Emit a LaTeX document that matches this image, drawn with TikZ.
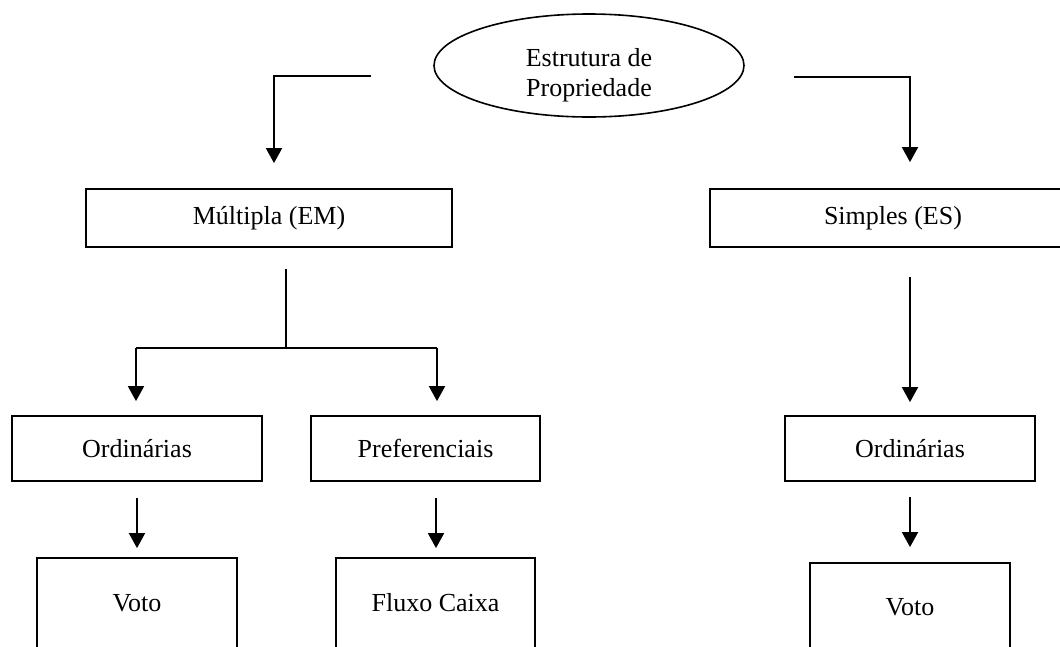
\documentclass[tikz,border=0pt]{standalone}
\usepackage{fontspec}
\setmainfont{Liberation Serif}
\usetikzlibrary{arrows.meta,shapes.geometric,calc}
\begin{document}
\begin{tikzpicture}[x=1pt,y=-1pt,
  every node/.style={font=\fontsize{26}{30}\selectfont},
  box/.style={draw=black,line width=1.8pt,rectangle,inner sep=0pt},
  link/.style={draw=black,line width=1.8pt},
  arrowlink/.style={link,-{Triangle[width=16pt,length=15pt]}}]
\useasboundingbox (0,0) rectangle (1060,646);
\clip (0,0) rectangle (1060,646);
\fill[white] (0,0) rectangle (1060,646);

% top ellipse
\node[draw=black,line width=1.6pt,ellipse,minimum width=310,minimum height=103,inner sep=0pt] (root) at (589,65.5) {};
\node[align=center,inner sep=0pt] (roottxt) at (589,75) {Estrutura de\\Propriedade};

% first level
\node[box,minimum width=366,minimum height=58] (mult) at (269,218) {Múltipla (EM)};
\node[box,minimum width=366,minimum height=58] (simp) at (893,218) {Simples (ES)};

% second level
\node[box,minimum width=250,minimum height=65] (ord1) at (137,448.5) {Ordinárias};
\node[box,minimum width=229,minimum height=65] (pref) at (425.5,448.5) {Preferenciais};
\node[box,minimum width=250,minimum height=65] (ord2) at (910,448.5) {Ordinárias};

% third level (boxes run past the lower edge)
\node[box,minimum width=200,minimum height=90] (voto1) at (137,603) {Voto};
\node[box,minimum width=199,minimum height=90] (fluxo) at (435.5,603) {Fluxo Caixa};
\node[box,minimum width=200,minimum height=88] (voto2) at (910,607) {Voto};

% free ends of the connectors
\coordinate (rl) at (371,76);
\coordinate (rr) at (794,77);
\coordinate (ms) at (286,269);
\coordinate (mj) at (286,348);
\coordinate (sl) at (136,348);
\coordinate (sr) at (437,348);
\coordinate (ss) at (910,277);
\coordinate (o1s) at (137,498);
\coordinate (ps) at (436,498);
\coordinate (o2s) at (910,497);

% root to first level
\draw[arrowlink] (rl) -| ($(mult.north)+(5,-25)$);
\draw[arrowlink] (rr) -| ($(simp.north)+(17,-26)$);

% Multipla split
\draw[link] (ms) -- (mj);
\draw[link] (sl) -- (sr);
\draw[arrowlink] (sl) -- ($(ord1.north)+(-1,-14)$);
\draw[arrowlink] (sr) -- ($(pref.north)+(11.5,-14)$);

% Simples to its Ordinarias
\draw[arrowlink] (ss) -- ($(ord2.north)+(0,-13)$);

% second to third level
\draw[arrowlink] (o1s) -- ($(voto1.north)+(0,-9)$);
\draw[arrowlink] (ps) -- ($(fluxo.north)+(0.5,-9)$);
\draw[arrowlink] (o2s) -- ($(voto2.north)+(0,-15)$);
\end{tikzpicture}
\end{document}
